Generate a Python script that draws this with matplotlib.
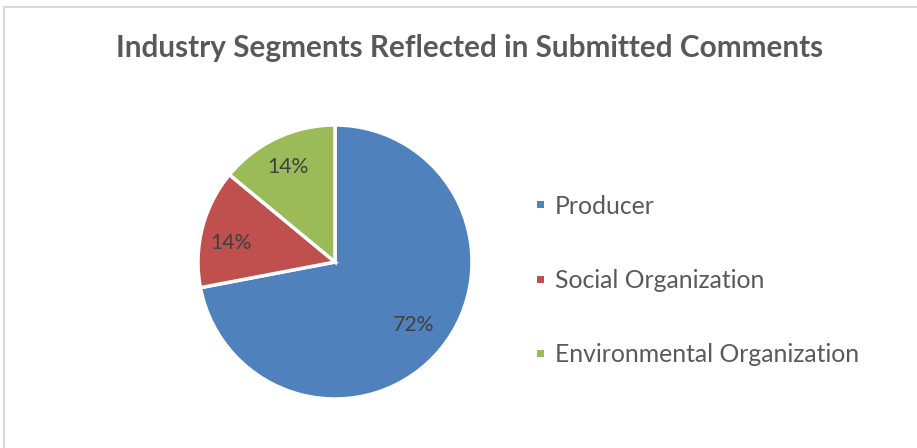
import matplotlib.pyplot as plt
from matplotlib.lines import Line2D
from matplotlib.patches import Rectangle

categories = ['Producer', 'Social Organization', 'Environmental Organization']
shares = [72, 14, 14]
colors = ['#4f81bd', '#c0504d', '#9bbb59']

plt.rcParams['font.family'] = ['Lato', 'DejaVu Sans']

W, H = 917, 448
fig = plt.figure(figsize=(W / 100, H / 100), dpi=100)

# chart frame (only top and left edges visible in the crop)
fig.add_artist(Line2D([4 / W, 4 / W], [0, 1 - 7 / H], color='#d9d9d9', lw=1.5))
fig.add_artist(Line2D([4 / W, 1], [1 - 7 / H, 1 - 7 / H], color='#d9d9d9', lw=1.5))

fig.text(469.5 / W, 1 - 48 / H, 'Industry Segments Reflected in Submitted Comments',
         ha='center', va='center', fontsize=21.4, fontweight='bold', color='#595959')

# pie centre ~ (335, 262), radius ~ 137 px
r = 137
ax = fig.add_axes([(335 - r) / W, (H - 262 - r) / H, 2 * r / W, 2 * r / H])
wedges, texts = ax.pie(shares, colors=colors, startangle=90, counterclock=False,
                       wedgeprops=dict(edgecolor='white', linewidth=2.5))
ax.set_xlim(-1, 1)
ax.set_ylim(-1, 1)
ax.set_aspect('equal')

label_pos = [(414, 325), (231, 243), (288, 167)]
for (px, py), v in zip(label_pos, shares):
    fig.text(px / W, 1 - py / H, f'{v}%', ha='center', va='center',
             fontsize=15.3, color='#404040')

# legend, drawn by hand to match the spacing
for i, (cat, c) in enumerate(zip(categories, colors)):
    y = 205 + 74 * i
    fig.add_artist(Rectangle((537 / W, 1 - (y + 3.5) / H), 7 / W, 7 / H,
                             facecolor=c, edgecolor='none'))
    fig.text(555 / W, 1 - (y + 1) / H, cat, ha='left', va='center',
             fontsize=17.8, color='#595959')

fig.savefig('out.png', dpi=100)
